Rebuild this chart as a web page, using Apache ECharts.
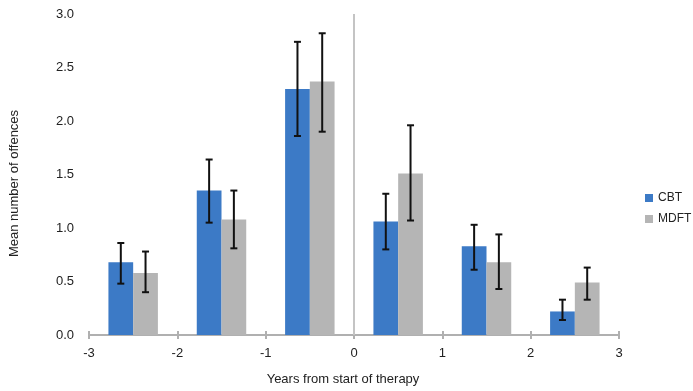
<!DOCTYPE html>
<html>
<head>
<meta charset="utf-8">
<script src="https://cdn.jsdelivr.net/npm/echarts@6/dist/echarts.min.js"></script>
<style>html,body{margin:0;padding:0;background:#fff;}#c{width:693px;height:391px;}</style>
</head>
<body>
<div id="c"></div>
<script>
const years = [-2.5, -1.5, -0.5, 0.5, 1.5, 2.5];
const cbtMean = [0.68, 1.35, 2.30, 1.06, 0.83, 0.22];
const cbtLow = [0.48, 1.05, 1.86, 0.80, 0.61, 0.14];
const cbtHigh = [0.86, 1.64, 2.74, 1.32, 1.03, 0.33];
const mdftMean = [0.58, 1.08, 2.37, 1.51, 0.68, 0.49];
const mdftLow = [0.40, 0.81, 1.90, 1.07, 0.43, 0.33];
const mdftHigh = [0.78, 1.35, 2.82, 1.96, 0.94, 0.63];

const FONT = 'Liberation Sans, Arial, sans-serif';
const BAR_W = 0.28;

function makeData(mean, low, high) {
  return years.map((x, i) => [x, mean[i], low[i], high[i]]);
}

function makeRender(side) {
  return function (params, api) {
    const x = api.value(0);
    const x0 = side < 0 ? x - BAR_W : x;
    const x1 = side < 0 ? x : x + BAR_W;
    const pTop = api.coord([x0, api.value(1)]);
    const pBase = api.coord([x1, 0]);
    const xc = (pTop[0] + pBase[0]) / 2;
    const yLo = api.coord([x, api.value(2)])[1];
    const yHi = api.coord([x, api.value(3)])[1];
    const cap = 3.5;
    const es = { stroke: '#111', lineWidth: 2 };
    return {
      type: 'group',
      children: [
        { type: 'rect', shape: { x: pTop[0], y: pTop[1], width: pBase[0] - pTop[0], height: pBase[1] - pTop[1] }, style: { fill: api.visual('color') } },
        { type: 'line', shape: { x1: xc, y1: yLo, x2: xc, y2: yHi }, style: es },
        { type: 'line', shape: { x1: xc - cap, y1: yLo, x2: xc + cap, y2: yLo }, style: es },
        { type: 'line', shape: { x1: xc - cap, y1: yHi, x2: xc + cap, y2: yHi }, style: es }
      ]
    };
  };
}

const chart = echarts.init(document.getElementById('c'), null, { renderer: 'canvas' });
chart.setOption({
  animation: false,
  textStyle: { fontFamily: FONT },
  grid: { left: 87, right: 74, top: 14, bottom: 53 },
  legend: {
    orient: 'vertical', left: 640, top: 187, itemWidth: 8, itemHeight: 8, itemGap: 9,
    icon: 'rect',
    textStyle: { fontFamily: FONT, fontSize: 12, color: '#222' },
    data: ['CBT', 'MDFT']
  },
  xAxis: [{
    type: 'value', min: -3, max: 3, interval: 1,
    name: 'Years from start of therapy', nameLocation: 'middle', nameGap: 38,
    nameTextStyle: { fontFamily: FONT, fontSize: 13, color: '#222', padding: [0, 22, 0, 0] },
    axisLine: { onZero: false, lineStyle: { color: '#b0b0b0', width: 2 } },
    axisTick: { show: true, length: 4, lineStyle: { color: '#b0b0b0', width: 2 } },
    axisLabel: { fontFamily: FONT, fontSize: 13, color: '#222', margin: 12 },
    splitLine: { show: false }
  }, {
    type: 'value', min: -3, max: 3, interval: 1, position: 'bottom',
    axisLine: { show: false },
    axisTick: { show: true, inside: true, length: 4, lineStyle: { color: '#b0b0b0', width: 2 } },
    axisLabel: { show: false },
    splitLine: { show: false }
  }],
  yAxis: {
    type: 'value', min: 0, max: 3, interval: 0.5,
    name: 'Mean number of offences', nameLocation: 'middle', nameGap: 68,
    nameTextStyle: { fontFamily: FONT, fontSize: 13, color: '#222', padding: [0, 18, 0, 0] },
    axisLine: { show: false }, axisTick: { show: false },
    axisLabel: { fontFamily: FONT, fontSize: 13, color: '#222', margin: 15, formatter: v => v.toFixed(1) },
    splitLine: { show: false }
  },
  series: [{
    name: 'CBT', type: 'custom', xAxisIndex: 0,
    itemStyle: { color: '#3c7ac6' },
    renderItem: makeRender(-1),
    encode: { x: 0, y: [1, 2, 3] },
    data: makeData(cbtMean, cbtLow, cbtHigh),
    markLine: {
      silent: true, symbol: 'none', label: { show: false },
      lineStyle: { color: '#c4c4c4', width: 2, type: 'solid' },
      data: [{ xAxis: 0 }]
    }
  }, {
    name: 'MDFT', type: 'custom', xAxisIndex: 0,
    itemStyle: { color: '#b5b5b5' },
    renderItem: makeRender(1),
    encode: { x: 0, y: [1, 2, 3] },
    data: makeData(mdftMean, mdftLow, mdftHigh)
  }]
});
</script>
</body>
</html>
